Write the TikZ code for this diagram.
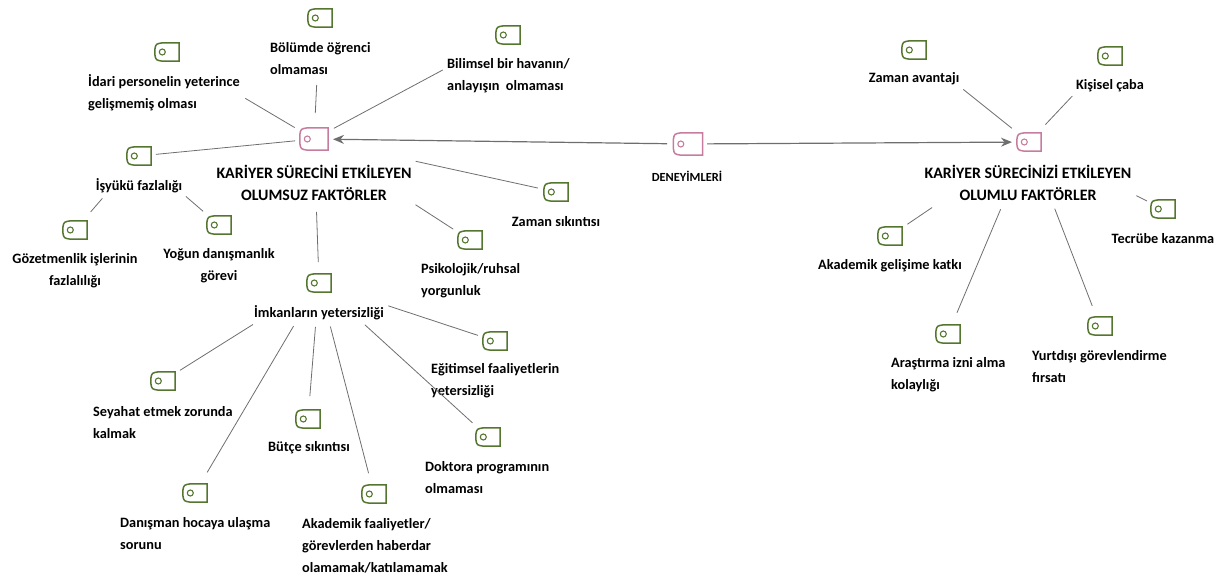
\documentclass[tikz,border=0pt]{standalone}
\usepackage{fontspec}
\setmainfont{Carlito}
\usepackage{tikz}
\usetikzlibrary{arrows, arrows.meta}

\definecolor{tagGreen}{HTML}{55762F}
\definecolor{tagPink}{HTML}{C67C9E}
\definecolor{linkGray}{HTML}{6E6E6E}

\tikzset{
    tagicon/.style={
        rectangle,
        minimum width=24pt,
        minimum height=18pt,
        inner sep=0pt,
        append after command={\pgfextra{
            \draw[#1,line width=1.5pt] (\tikzlastnode.north east) -- (\tikzlastnode.south east)
                -- ([xshift=8pt]\tikzlastnode.south west)
                .. controls ([xshift=1pt,yshift=1pt]\tikzlastnode.south west) .. ([yshift=7pt]\tikzlastnode.south west)
                -- ([yshift=-7pt]\tikzlastnode.north west)
                .. controls ([xshift=1pt,yshift=-1pt]\tikzlastnode.north west) .. ([xshift=8pt]\tikzlastnode.north west)
                -- cycle;
            \draw[#1,line width=1.1pt] ([xshift=7.5pt]\tikzlastnode.west) circle (3pt);}}},
    lbl/.style={font=\bfseries\fontsize{14.3}{22}\selectfont, inner sep=0pt, align=center},
    lblleft/.style={lbl, anchor=west, align=left},
    hublbl/.style={lbl, font=\bfseries\fontsize{15.9}{22.5}\selectfont},
    link/.style 2 args={draw=linkGray, line width=0.8pt, shorten <=#1pt, shorten >=#2pt},
    arrowlink/.style 2 args={link={#1}{#2}, line width=1.2pt, -{Stealth[length=11pt,width=9pt]}}
}

\begin{document}
\begin{tikzpicture}[x=1pt,y=-1pt]
    \useasboundingbox (0,0) rectangle (1219,581);
    % main codes
    \node[tagicon=tagPink, minimum width=28pt, minimum height=22pt] (olumsuz) at (314,139) {};
    \node[hublbl] (olumsuz_lbl) at (314,183) {KARİYER SÜRECİNİ ETKİLEYEN\\OLUMSUZ FAKTÖRLER};
    \node[tagicon=tagPink, minimum width=29pt, minimum height=22pt] (deneyim) at (688,144) {};
    \node[lbl, font=\bfseries\fontsize{12.4}{14}\selectfont] (deneyim_lbl) at (687,176) {DENEYİMLERİ};
    \node[tagicon=tagPink] (olumlu) at (1029,142) {};
    \node[hublbl] (olumlu_lbl) at (1028,183) {KARİYER SÜRECİNİZİ ETKİLEYEN\\OLUMLU FAKTÖRLER};
    % negative side
    \node[tagicon=tagGreen] (bolum) at (320,18) {};
    \node[lblleft] (bolum_lbl) at (270,59) {Bölümde öğrenci\\olmaması};
    \node[tagicon=tagGreen] (idari) at (167,52) {};
    \node[lblleft] (idari_lbl) at (88,93) {İdari personelin yeterince\\gelişmemiş olması};
    \node[tagicon=tagGreen] (bilimsel) at (508,35) {};
    \node[lblleft] (bilimsel_lbl) at (447,75.5) {Bilimsel bir havanın/\\anlayışın\ \ olmaması};
    \node[tagicon=tagGreen] (isyuku) at (139,156) {};
    \node[lbl] (isyuku_lbl) at (139,186) {İşyükü fazlalığı};
    \node[tagicon=tagGreen] (gozetmen) at (75,230) {};
    \node[lbl] (gozetmen_lbl) at (75,271) {Gözetmenlik işlerinin\\fazlalılığı};
    \node[tagicon=tagGreen] (yogun) at (219,225) {};
    \node[lbl] (yogun_lbl) at (219,266) {Yoğun danışmanlık\\görevi};
    \node[tagicon=tagGreen] (zaman) at (556,192) {};
    \node[lbl] (zaman_lbl) at (556,222) {Zaman sıkıntısı};
    \node[tagicon=tagGreen] (psiko) at (470,240) {};
    \node[lblleft] (psiko_lbl) at (421,281) {Psikolojik/ruhsal\\yorgunluk};
    \node[tagicon=tagGreen] (imkan) at (319,283) {};
    \node[lbl] (imkan_lbl) at (319,313) {İmkanların yetersizliği};
    \node[tagicon=tagGreen] (egitim) at (495,341) {};
    \node[lblleft] (egitim_lbl) at (431,381) {Eğitimsel faaliyetlerin\\yetersizliği};
    \node[tagicon=tagGreen] (seyahat) at (163,381) {};
    \node[lblleft] (seyahat_lbl) at (93,423) {Seyahat etmek zorunda\\kalmak};
    \node[tagicon=tagGreen] (butce) at (308,419) {};
    \node[lbl] (butce_lbl) at (309,448) {Bütçe sıkıntısı};
    \node[tagicon=tagGreen] (doktora) at (488,437) {};
    \node[lblleft] (doktora_lbl) at (425,478) {Doktora programının\\olmaması};
    \node[tagicon=tagGreen] (danisman) at (195,493) {};
    \node[lblleft] (danisman_lbl) at (120,534) {Danışman hocaya ulaşma\\sorunu};
    \node[tagicon=tagGreen] (akademik) at (374,494) {};
    \node[lblleft] (akademik_lbl) at (302,546) {Akademik faaliyetler/\\görevlerden haberdar\\olamamak/katılamamak};
    % positive side
    \node[tagicon=tagGreen] (avantaj) at (914,50) {};
    \node[lbl] (avantaj_lbl) at (914,79) {Zaman avantajı};
    \node[tagicon=tagGreen] (caba) at (1110,56) {};
    \node[lbl] (caba_lbl) at (1110,86) {Kişisel çaba};
    \node[tagicon=tagGreen] (tecrube) at (1163,209) {};
    \node[lbl] (tecrube_lbl) at (1163,239) {Tecrübe kazanma};
    \node[tagicon=tagGreen] (katki) at (890,236) {};
    \node[lbl] (katki_lbl) at (890,266) {Akademik gelişime katkı};
    \node[tagicon=tagGreen] (izin) at (948,334) {};
    \node[lblleft] (izin_lbl) at (891,375) {Araştırma izni alma\\kolaylığı};
    \node[tagicon=tagGreen] (yurtdisi) at (1100,326) {};
    \node[lblleft] (yurtdisi_lbl) at (1032,367) {Yurtdışı görevlendirme\\fırsatı};
    % links
    \draw[arrowlink={21}{19}] (deneyim.center) -- (olumsuz.center);
    \draw[arrowlink={19}{17}] (deneyim.center) -- (olumlu.center);
    \draw[link={22.5}{91}] (olumsuz.center) -- (idari.center);
    \draw[link={26}{67}] (olumsuz.center) -- (bolum.center);
    \draw[link={22.5}{74}] (olumsuz.center) -- (bilimsel.center);
    \draw[link={19}{17}] (olumsuz.center) -- (isyuku.center);
    \draw[link={104}{18.5}] (olumsuz.center) -- (zaman.center);
    \draw[link={121}{20}] (olumsuz.center) -- (psiko.center);
    \draw[link={73}{21}] (olumsuz.center) -- (imkan.center);
    \draw[link={56}{24}] (isyuku.center) -- (gozetmen.center);
    \draw[link={62}{21}] (isyuku.center) -- (yogun.center);
    \draw[link={73}{18}] (imkan.center) -- (egitim.center);
    \draw[link={62}{21}] (imkan.center) -- (doktora.center);
    \draw[link={44}{23}] (imkan.center) -- (butce.center);
    \draw[link={45}{21.5}] (imkan.center) -- (akademik.center);
    \draw[link={50}{24}] (imkan.center) -- (danisman.center);
    \draw[link={78}{20}] (imkan.center) -- (seyahat.center);
    \draw[link={22}{63}] (olumlu.center) -- (avantaj.center);
    \draw[link={24}{55}] (olumlu.center) -- (caba.center);
    \draw[link={120}{18}] (olumlu.center) -- (tecrube.center);
    \draw[link={117}{21}] (olumlu.center) -- (katki.center);
    \draw[link={73}{23}] (olumlu.center) -- (izin.center);
    \draw[link={71.5}{21.5}] (olumlu.center) -- (yurtdisi.center);
\end{tikzpicture}
\end{document}
